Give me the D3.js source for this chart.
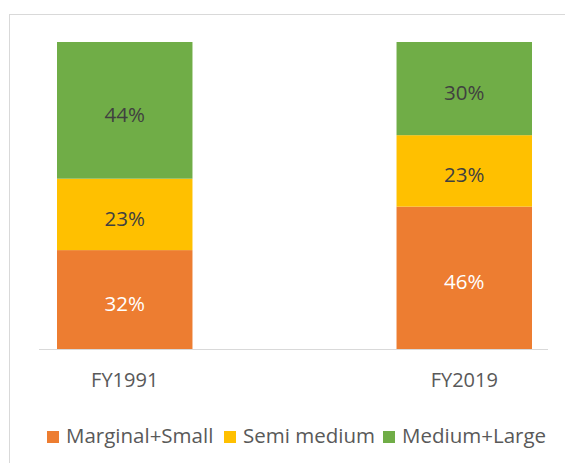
<!DOCTYPE html>
<html>
<head>
<meta charset="utf-8">
<script src="https://cdn.jsdelivr.net/npm/d3@7"></script>
<style>
	body { margin: 0; background: #fff; }
	text { font-family: "Open Sans", sans-serif; }
	.axis path, .axis line { fill: none; stroke: #d9d9d9; }
	.axis text { fill: #595959; font-size: 20px; font-family: "Open Sans", sans-serif; }
	.legend text { fill: #595959; font-size: 20.5px; }
	.MyText { text-anchor: middle; font-size: 20.5px; }
</style>
</head>
<body>
<script>
	var width = 565, height = 463;
	var categories = ["FY1991", "FY2019"];
	var series = ["Marginal+Small", "Semi medium", "Medium+Large"];
	var marginalSmall = [32, 46];
	var semiMedium = [23, 23];
	var mediumLarge = [44, 30];
	var colors = ["#ed7d31", "#ffc000", "#70ad47"];
	var labelColors = ["#ffffff", "#404040", "#404040"];

	// table for d3.stack
	var rows = categories.map(function(c, i){
		return {cat: c, "Marginal+Small": marginalSmall[i], "Semi medium": semiMedium[i], "Medium+Large": mediumLarge[i]};
	});
	var stacked = d3.stack().keys(series).offset(d3.stackOffsetExpand)(rows);

	var xscale = d3.scaleBand()
		.domain(categories)
		.range([57, 532])
		.paddingInner(0.601);
	var yscale = d3.scaleLinear()
		.domain([0, 1])
		.range([349.5, 42]);

	var svg = d3.select("body").append("svg")
		.attr("width", width)
		.attr("height", height);

	// chart border
	svg.append("rect")
		.attr("x", 9.5).attr("y", 14.5)
		.attr("width", 600).attr("height", 500)
		.attr("fill", "none")
		.attr("stroke", "#d9d9d9");

	var groups = svg.selectAll(".layer")
		.data(stacked)
		.enter().append("g")
		.attr("class", "layer")
		.attr("fill", function(d, i){ return colors[i]; });

	groups.selectAll("rect")
		.data(function(d){ return d; })
		.enter().append("rect")
		.attr("x", function(d){ return xscale(d.data.cat); })
		.attr("width", xscale.bandwidth())
		.attr("y", function(d){ return yscale(d[1]); })
		.attr("height", function(d){ return yscale(d[0]) - yscale(d[1]); });

	// data labels
	groups.selectAll(".MyText")
		.data(function(d, i){ return d.map(function(p){ return {p: p, k: d.key, i: i}; }); })
		.enter().append("text")
		.attr("class", "MyText")
		.attr("fill", function(d){ return labelColors[d.i]; })
		.attr("x", function(d){ return xscale(d.p.data.cat) + xscale.bandwidth() / 2; })
		.attr("y", function(d){ return (yscale(d.p[0]) + yscale(d.p[1])) / 2 + 4; })
		.attr("dy", "0.35em")
		.text(function(d){ return d.p.data[d.k] + "%"; });

	// x axis
	var xAxis = d3.axisBottom(xscale).tickSize(0).tickPadding(22.8);
	var gx = svg.append("g")
		.attr("class", "axis")
		.attr("transform", "translate(0,349.5)")
		.call(xAxis);
	gx.attr("font-size", null).attr("font-family", null);
	gx.select(".domain").attr("d", "M39,0H548");

	// legend
	var legendX = [47, 224, 383];
	var legend = svg.append("g").attr("class", "legend");
	var items = legend.selectAll("g")
		.data(series)
		.enter().append("g")
		.attr("transform", function(d, i){ return "translate(" + legendX[i] + ",431)"; });
	items.append("rect")
		.attr("width", 12).attr("height", 12)
		.attr("fill", function(d, i){ return colors[i]; });
	items.append("text")
		.attr("x", 19)
		.attr("y", 12)
		.text(function(d){ return d; });
</script>
</body>
</html>
